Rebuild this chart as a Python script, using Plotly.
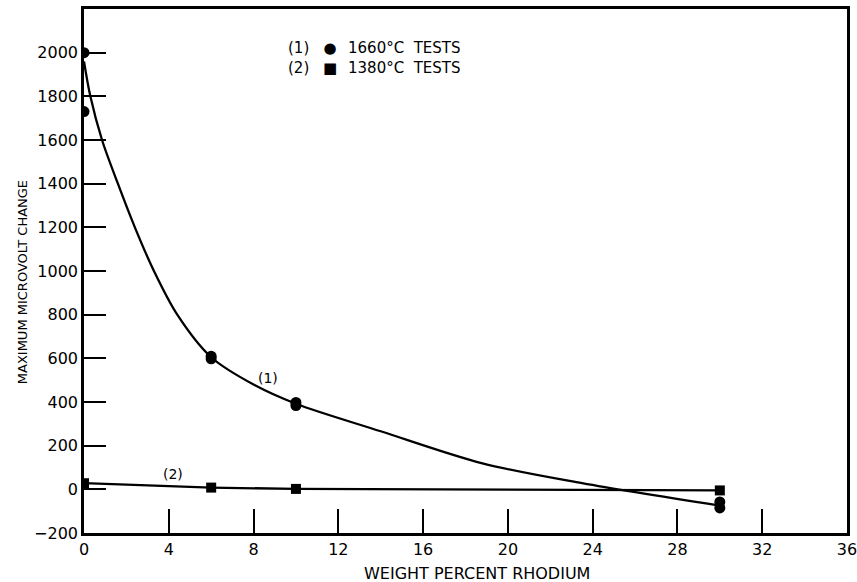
import plotly.graph_objects as go

# ---- data ----
rh_1660 = [0, 0, 6, 6, 10, 10, 30, 30]
uv_1660 = [2000, 1730, 610, 598, 398, 384, -58, -85]

# smooth faired curve (1)
curve1_x = [0, 0.3, 0.85, 1.6, 2.4, 3.3, 4.4, 6, 8, 10, 14, 18.8, 23.5, 30]
curve1_y = [1960, 1800, 1600, 1400, 1200, 1000, 800, 605, 480, 392, 266, 119, 28, -75]

rh_1380 = [0, 6, 10, 30]
uv_1380 = [28, 8, 2, -5]

x_ticks = [0, 4, 8, 12, 16, 20, 24, 28, 32, 36]
y_ticks = [-200, 0, 200, 400, 600, 800, 1000, 1200, 1400, 1600, 1800, 2000]

key_ids = ["(1)", "(2)"]
key_syms = ["●", "■"]
key_labels = ["1660°C  TESTS", "1380°C  TESTS"]

FONT = "DejaVu Sans"
BLACK = "black"
fig = go.Figure()

fig.add_trace(go.Scatter(x=curve1_x, y=curve1_y, mode="lines",
                         line=dict(color=BLACK, width=2.3, shape="spline", smoothing=0.9),
                         hoverinfo="skip", showlegend=False))
fig.add_trace(go.Scatter(x=rh_1380, y=uv_1380, mode="lines+markers",
                         line=dict(color=BLACK, width=2.3),
                         marker=dict(symbol="square", size=10, color=BLACK),
                         showlegend=False))
fig.add_trace(go.Scatter(x=rh_1660, y=uv_1660, mode="markers",
                         marker=dict(symbol="circle", size=11, color=BLACK),
                         showlegend=False))

fig.update_xaxes(range=[0, 36], tickvals=x_ticks, ticks="inside", ticklen=24, tickwidth=1.5,
                 tickcolor=BLACK, showline=True, linecolor=BLACK, linewidth=2.5, mirror=True,
                 showgrid=False, zeroline=False, ticklabeloverflow="allow", automargin=False,
                 tickfont=dict(family=FONT, size=16, color=BLACK))
fig.update_yaxes(range=[-200, 2200], tickvals=y_ticks, ticks="inside", ticklen=22, tickwidth=1.5,
                 tickcolor=BLACK, showline=True, linecolor=BLACK, linewidth=2.5, mirror=True,
                 showgrid=False, zeroline=False, automargin=False,
                 tickfont=dict(family=FONT, size=16, color=BLACK))

def note(text, x, y, size=15, xanchor="center", xref="x", yref="y", align="center", **kw):
    return dict(text=text, x=x, y=y, xref=xref, yref=yref, xanchor=xanchor, yanchor="middle",
                align=align, showarrow=False, font=dict(family=FONT, size=size, color=BLACK), **kw)

ann = [
    note("WEIGHT PERCENT RHODIUM", 0.515, -0.078, size=16, xref="paper", yref="paper"),
    note("MAXIMUM MICROVOLT CHANGE", -0.081, 0.479, size=13, xref="paper", yref="paper", textangle=-90),
    note("(1)", 8.7, 510, size=14),
    note("(2)", 4.2, 72, size=14),
    # key (two rows per column)
    note("<br>".join(key_ids), 10.1, 1975, size=15),
    note("<br>".join(key_syms), 11.6, 1975, size=15),
    note("<br>".join(key_labels), 12.35, 1975, size=15, xanchor="left", align="left"),
]
fig.update_layout(width=857, height=582, margin=dict(l=84, r=10, t=9, b=49, autoexpand=False),
                  plot_bgcolor="white", paper_bgcolor="white", annotations=ann)

# remove the page's default 8px body margin so the figure fills the window exactly
fig.write_html("out.html", config={"displayModeBar": False},
               post_script="document.body.style.margin='0';document.body.style.overflow='hidden';")
